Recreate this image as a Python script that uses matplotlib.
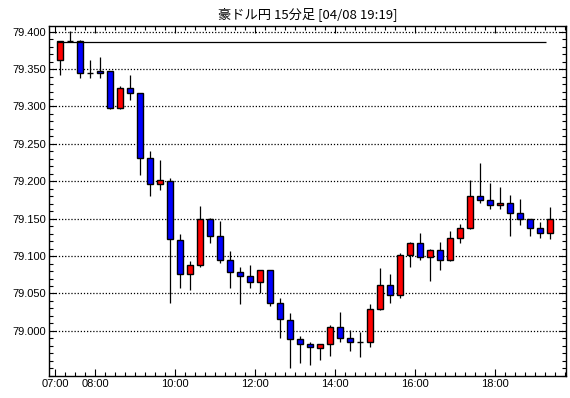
import matplotlib
matplotlib.use('Agg')
import matplotlib.pyplot as plt
import numpy as np

# 15-minute AUD/JPY candles, 07:00 .. 19:15
opens = [79.362, 79.387, 79.388, 79.345, 79.347, 79.347, 79.298, 79.325, 79.318, 79.231,
         79.196, 79.200, 79.122, 79.076, 79.088, 79.149, 79.127, 79.095, 79.079, 79.073,
         79.065, 79.082, 79.037, 79.014, 78.989, 78.982, 78.977, 78.982, 79.005, 78.991,
         78.985, 78.985, 79.029, 79.062, 79.048, 79.102, 79.118, 79.099, 79.108, 79.095,
         79.124, 79.137, 79.180, 79.175, 79.168, 79.171, 79.158, 79.150, 79.137, 79.131]
closes = [79.387, 79.388, 79.345, 79.345, 79.345, 79.298, 79.325, 79.318, 79.231, 79.196,
          79.202, 79.123, 79.076, 79.088, 79.149, 79.127, 79.095, 79.079, 79.073, 79.065,
          79.082, 79.037, 79.016, 78.989, 78.982, 78.978, 78.982, 79.005, 78.991, 78.985,
          78.985, 79.029, 79.062, 79.048, 79.102, 79.118, 79.099, 79.108, 79.095, 79.124,
          79.137, 79.180, 79.175, 79.168, 79.171, 79.158, 79.150, 79.137, 79.131, 79.150]
highs = [79.388, 79.401, 79.389, 79.362, 79.366, 79.347, 79.327, 79.342, 79.318, 79.241,
         79.228, 79.204, 79.130, 79.094, 79.167, 79.151, 79.147, 79.107, 79.085, 79.088,
         79.082, 79.082, 79.044, 79.024, 78.993, 78.985, 78.983, 79.008, 79.025, 79.001,
         78.999, 79.036, 79.084, 79.076, 79.104, 79.119, 79.131, 79.109, 79.119, 79.133,
         79.143, 79.202, 79.225, 79.198, 79.193, 79.182, 79.176, 79.150, 79.146, 79.166]
lows = [79.342, 79.386, 79.338, 79.338, 79.338, 79.296, 79.297, 79.309, 79.208, 79.180,
        79.189, 79.037, 79.057, 79.055, 79.085, 79.118, 79.091, 79.057, 79.036, 79.057,
        79.051, 79.033, 78.991, 78.950, 78.957, 78.955, 78.961, 78.966, 78.985, 78.973,
        78.965, 78.979, 79.028, 79.037, 79.044, 79.085, 79.095, 79.067, 79.081, 79.094,
        79.118, 79.136, 79.171, 79.163, 79.163, 79.127, 79.142, 79.127, 79.124, 79.123]
ref_level = 79.386

time_labels = ['07:00', '08:00', '10:00', '12:00', '14:00', '16:00', '18:00']
time_slots = [0, 4, 12, 20, 28, 36, 44]   # bar index where each labelled hour starts
title = '豪ドル円 15分足 [04/08 19:19]'

o = np.array(opens)
c = np.array(closes)
h = np.array(highs)
l = np.array(lows)
x = np.arange(len(o))

fig = plt.figure(figsize=(5.7, 3.98), dpi=100)
ax = fig.add_axes([49 / 570, 22 / 398, 517 / 570, 350 / 398])

colors = np.where(c > o, '#ff0000', np.where(c < o, '#0000ff', '#000000'))
ax.vlines(x, l, h, color='black', linewidth=0.9, zorder=2)
ax.bar(x, np.abs(c - o), bottom=np.minimum(o, c), width=0.55, color=colors,
       edgecolor='black', linewidth=1.0, zorder=3)
ax.hlines(ref_level, -0.3, 48.6, color='black', linewidth=0.9, zorder=4)

ax.set_xlim(-1.1, 50.6)
ax.set_ylim(78.9397, 79.4076)

ax.set_xticks([s - 0.5 for s in time_slots])
ax.set_xticklabels(time_labels)
ax.set_xticks(np.arange(-0.5, 50.6, 1), minor=True)
ax.set_yticks(np.arange(79.0, 79.401, 0.05))
ax.set_yticklabels([f'{v:.3f}' for v in np.arange(79.0, 79.401, 0.05)])
ax.set_yticks(np.arange(78.94, 79.41, 0.01), minor=True)

ax.tick_params(which='both', direction='in', top=True, right=True, width=0.8,
               labelsize=8, colors='black')
ax.tick_params(which='major', length=5, pad=2)
ax.tick_params(which='minor', length=3)
for lab in ax.get_xticklabels() + ax.get_yticklabels():
    lab.set_family('Liberation Sans')

ax.yaxis.grid(True, which='major', linestyle=(0, (1, 1.5)), color='black', linewidth=0.9)
ax.set_axisbelow(True)
for sp in ax.spines.values():
    sp.set_linewidth(1.0)
    sp.set_color('black')

ax.set_title(title, fontsize=9.5, family=['Noto Sans CJK JP', 'DejaVu Sans'], pad=6)

fig.savefig('out.png', dpi=100, facecolor='white')
